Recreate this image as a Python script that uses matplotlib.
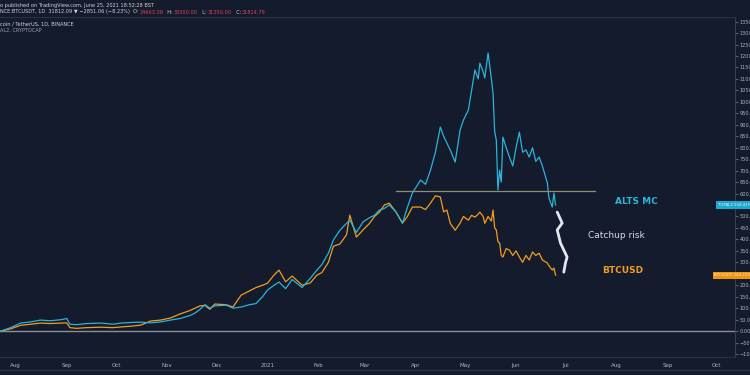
import matplotlib
matplotlib.use("Agg")
import matplotlib.pyplot as plt
import matplotlib.transforms as mtransforms
import numpy as np
import pandas as pd

BG = "#131b2c"
CYAN = "#2bb4d8"
ORANGE = "#f39c1e"
TEXT = "#b2b5be"
RED = "#e0454f"

# percent change since 23 Jul 2020
dates = [
    "2020-07-23", "2020-07-29", "2020-08-04", "2020-08-10", "2020-08-16", "2020-08-22",
    "2020-08-29", "2020-09-01", "2020-09-03", "2020-09-07", "2020-09-13", "2020-09-22",
    "2020-09-29", "2020-10-04", "2020-10-11", "2020-10-16", "2020-10-22", "2020-10-28",
    "2020-11-03", "2020-11-09", "2020-11-15", "2020-11-18", "2020-11-21", "2020-11-24",
    "2020-11-27", "2020-11-30", "2020-12-07", "2020-12-11", "2020-12-16", "2020-12-21",
    "2020-12-25", "2020-12-29", "2021-01-01", "2021-01-05", "2021-01-08", "2021-01-12",
    "2021-01-16", "2021-01-22", "2021-01-27", "2021-01-31", "2021-02-03", "2021-02-07",
    "2021-02-10", "2021-02-14", "2021-02-18", "2021-02-20", "2021-02-24", "2021-02-28",
    "2021-03-04", "2021-03-07", "2021-03-10", "2021-03-13", "2021-03-16", "2021-03-20",
    "2021-03-24", "2021-03-27", "2021-03-30", "2021-04-04", "2021-04-07", "2021-04-10",
    "2021-04-13", "2021-04-16", "2021-04-18", "2021-04-20", "2021-04-22", "2021-04-25",
    "2021-04-28", "2021-04-30", "2021-05-03", "2021-05-05", "2021-05-07", "2021-05-09",
    "2021-05-10", "2021-05-12", "2021-05-13", "2021-05-15", "2021-05-17", "2021-05-18",
    "2021-05-19", "2021-05-20", "2021-05-21", "2021-05-22", "2021-05-23", "2021-05-24",
    "2021-05-26", "2021-05-28", "2021-05-30", "2021-06-01", "2021-06-03", "2021-06-05",
    "2021-06-07", "2021-06-09", "2021-06-11", "2021-06-13", "2021-06-15", "2021-06-17",
    "2021-06-20", "2021-06-21", "2021-06-23", "2021-06-24", "2021-06-25",
]
alts_pct = [
    0, 15, 35, 40, 48, 45,
    50, 55, 30, 28, 33, 35,
    30, 35, 38, 39, 36, 40,
    48, 55, 68, 79, 95, 115,
    100, 110, 113, 100, 105, 115,
    120, 150, 179, 200, 214, 185,
    225, 190, 230, 266, 290, 340,
    397, 440, 470, 484, 430, 476,
    495, 505, 528, 535, 550, 520,
    471, 540, 602, 659, 640, 702,
    780, 890, 850, 820, 790, 737,
    877, 920, 964, 1050, 1139, 1100,
    1169, 1130, 1104, 1213, 1100, 1038,
    870, 833, 615, 702, 650, 846,
    800, 759, 720, 800, 868, 780,
    790, 759, 800, 740, 759, 720,
    646, 580, 541, 602, 550,
]
btc_pct = [
    0, 10, 25, 30, 35, 33,
    35, 36, 15, 12, 15, 17,
    15, 18, 22, 26, 44, 48,
    57, 75, 90, 100, 110, 112,
    95, 118, 115, 105, 157, 175,
    190, 200, 209, 245, 266, 215,
    240, 200, 210, 244, 255, 300,
    370, 380, 420, 506, 410, 441,
    470, 500, 519, 550, 558, 520,
    471, 500, 541, 541, 530, 558,
    590, 585, 520, 528, 470, 440,
    471, 500, 484, 505, 497, 510,
    519, 500, 470, 500, 480, 528,
    450, 441, 390, 384, 330, 323,
    360, 353, 330, 350, 323, 300,
    330, 310, 345, 330, 340, 310,
    297, 285, 266, 275, 244,
]

# hand-drawn "catchup" squiggle (annotation path)
squiggle_dates = ["2021-06-26", "2021-06-29", "2021-06-26", "2021-06-28",
                  "2021-07-02", "2021-07-01", "2021-06-30"]
squiggle_pct = [519, 471, 441, 384, 323, 297, 257]

level_pct = 611
level_span = ["2021-03-20", "2021-07-19"]

month_ticks = pd.date_range("2020-08-01", "2021-10-01", freq="MS")
month_labels = ["2021" if d.month == 1 else d.strftime("%b") for d in month_ticks]

fig = plt.figure(figsize=(7.5, 3.75), dpi=100, facecolor=BG)
ax = fig.add_axes([0, 18 / 375, 735 / 750, 340 / 375], facecolor=BG)

x = pd.to_datetime(dates)
ax.axhline(0, color="#8a8e99", lw=1.0)
ax.plot(x, btc_pct, color=ORANGE, lw=0.9)
ax.plot(x, alts_pct, color=CYAN, lw=0.9)
ax.plot(pd.to_datetime(level_span), [level_pct, level_pct], color="#8d8f6e", lw=0.9)
ax.plot(pd.to_datetime(squiggle_dates), squiggle_pct, color="#e4e7ee", lw=2.0,
        solid_capstyle="round", solid_joinstyle="round")

ax.text(pd.Timestamp("2021-07-31"), 567, "ALTS MC", color=CYAN, fontsize=6.5,
        fontweight="bold", va="center")
ax.text(pd.Timestamp("2021-07-15"), 419, "Catchup risk", color="#d8dbe2",
        fontsize=6.5, va="center")
ax.text(pd.Timestamp("2021-07-23"), 266, "BTCUSD", color=ORANGE, fontsize=6.5,
        fontweight="bold", va="center")

ax.set_xlim(pd.Timestamp("2020-07-22 12:00"), pd.Timestamp("2021-10-12"))
ax.set_ylim(-113, 1370)

ax.yaxis.tick_right()
yt = np.arange(-100, 1351, 50)
ax.set_yticks(yt)
# labels under the last-value tags are hidden, as on the price scale
hidden = {250, 550}
ax.set_yticklabels(["" if v in hidden else f"{v:.2f}%".replace("-", "\u2212")
                    for v in yt])
ax.set_xticks(month_ticks)
ax.set_xticklabels(month_labels)
ax.tick_params(axis="y", colors="#5d606b", labelcolor=TEXT, labelsize=3.6,
               length=2, pad=1.5)
ax.tick_params(axis="x", length=0, labelcolor=TEXT, labelsize=4, pad=4)

ax.spines["left"].set_visible(False)
for side in ("top", "bottom"):
    ax.spines[side].set_color("#2a3142")
ax.spines["right"].set_color("#3a3f4c")

# last-value tags on the price scale
trans = mtransforms.blended_transform_factory(ax.transAxes, ax.transData)
ax.text(1.022, alts_pct[-1], "TOTAL2 550.41%", transform=trans, ha="right",
        va="center", fontsize=2.8, color="#e8f6fb", clip_on=False,
        bbox=dict(boxstyle="square,pad=0.4", fc="#1fa9cf", ec="none"))
ax.text(1.022, btc_pct[-1], "BTCUSDT 244.72%", transform=trans, ha="right",
        va="center", fontsize=2.8, color="#fff3e0", clip_on=False,
        bbox=dict(boxstyle="square,pad=0.4", fc="#f0930f", ec="none"))

# header lines
def px(xp, yp):
    return xp / 750, 1 - yp / 375

hdr = dict(fontsize=3.6, va="center", ha="left")
fig.text(*px(0, 5), "o published on TradingView.com, June 25, 2021 18:52:28 BST",
         color="#d1d4dc", **hdr)

# second header line: pieces laid one after another
pieces = [("NCE:BTCUSDT, 1D  31812.09 \u25bc \u22122851.06 (\u22128.23%)  O:", "#d1d4dc"),
          ("34663.08", RED), ("  H:", "#d1d4dc"), ("35500.00", RED),
          ("  L:", "#d1d4dc"), ("31300.00", RED), ("  C:", "#d1d4dc"),
          ("31814.79", RED)]
renderer = fig.canvas.get_renderer()
xcur = 0.0
for s, c in pieces:
    t = fig.text(*px(xcur, 12), s, color=c, **hdr)
    xcur += t.get_window_extent(renderer).width + 1

fig.text(*px(0, 24), "coin / TetherUS, 1D, BINANCE", color="#d1d4dc", **hdr)
fig.text(*px(0, 30), "AL2, CRYPTOCAP", color="#9ea2ad", **hdr)
fig.add_artist(plt.Line2D([0, 1], [1 - 370 / 375] * 2, color="#2a3142", lw=1,
                          transform=fig.transFigure))

fig.savefig("out.png", dpi=100, facecolor=BG)
